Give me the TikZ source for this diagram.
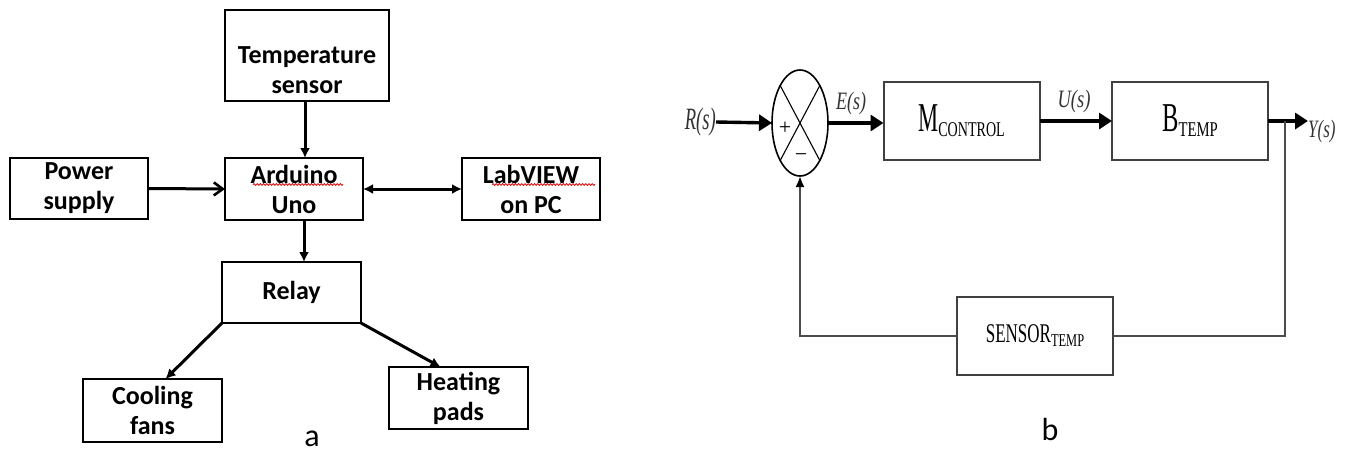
\documentclass[tikz,border=0pt]{standalone}
\usepackage{fontspec}
\setmainfont{Liberation Serif}
\newfontfamily\calibrifont{Carlito}
\usetikzlibrary{arrows.meta,shapes.geometric,decorations.pathmorphing}

\tikzset{
  lbox/.style={draw, line width=2pt, minimum width=138pt, minimum height=62pt,
    inner sep=0pt, outer sep=0pt, align=center,
    font=\calibrifont\bfseries\fontsize{26}{30}\selectfont},
  ltext/.style={inner sep=0pt, align=center, font=\calibrifont\bfseries\fontsize{26}{30}\selectfont},
  larrow/.style={line width=3pt, -{Latex[length=10pt,width=10pt]}},
  barbarrow/.style={line width=3pt, -{Straight Barb[length=9pt,width=13pt,line width=2.6pt]}},
  dblarrow/.style={line width=3pt, {Latex[length=10pt,width=10pt]}-{Latex[length=10pt,width=10pt]}},
  squiggle/.style={draw=red!85!black, line width=0.8pt, decorate,
    decoration={snake, segment length=3.2pt, amplitude=0.9pt}},
  rbox/.style={draw=black!75, line width=2pt, minimum width=156pt, minimum height=78pt,
    inner sep=0pt, outer sep=0pt},
  farrow/.style={line width=3.4pt, -{Triangle[length=13pt,width=16pt]}},
  fbline/.style={draw=black!70, line width=2pt},
  sig/.style={inner sep=0pt, text=black!80, font=\fontsize{25}{25}\selectfont\itshape},
  caption/.style={inner sep=0pt, font=\calibrifont\fontsize{32}{32}\selectfont},
}

\begin{document}
\begin{tikzpicture}[x=1pt,y=-1pt]
\fill[white] (0,0) rectangle (1346,453);
\useasboundingbox (0,0) rectangle (1346,453);

% ---------------- (a) ----------------
\node[lbox, minimum width=164pt, minimum height=91pt,
  label={[ltext,yshift=-15pt]center:{Temperature\\sensor}}] (temp) at (307,55.5) {};
\node[lbox] (ard) at (294,189) {Arduino\\Uno};
\node[lbox, minimum height=61pt] (pow) at (79,188.5) {Power\\supply};
\node[lbox] (lab) at (531,189) {LabVIEW\\on PC};
\node[lbox, minimum width=139pt, minimum height=61pt] (relay) at (291.5,292.5) {Relay};
\node[lbox, minimum width=139pt, minimum height=63pt] (cool) at (152.5,410.5) {Cooling\\fans};
\node[lbox, minimum width=139pt] (heat) at (458.5,398) {Heating\\pads};

\draw[squiggle] (253,184.5) -- (343,184.5);
\draw[squiggle] (492,184.5) -- (595,184.5);

\draw[larrow] ([xshift=-2pt]temp.south) -- ([xshift=-2pt]temp.south |- ard.north);
\draw[barbarrow] (pow.east) -- (ard.west);
\draw[dblarrow] (ard.east) -- (lab.west);
\draw[larrow] ([xshift=10pt]ard.south) -- ([xshift=10pt]ard.south |- relay.north);
\draw[larrow] (relay.south west) -- ([xshift=13pt]cool.north);
\draw[larrow] (relay.south east) -- ([xshift=-18pt]heat.north);

\node[caption, anchor=base] (capa) at (312,446) {a};

% ---------------- (b) ----------------
\node[draw, ellipse, line width=1.6pt, minimum width=56pt, minimum height=106pt,
  inner sep=0pt, outer sep=0pt] (sum) at (800,123) {};
\draw[line width=1.1pt] ([xshift=-19.8pt,yshift=37.5pt]sum.center) -- ([xshift=19.8pt,yshift=-37.5pt]sum.center);
\draw[line width=1.1pt] ([xshift=19.8pt,yshift=37.5pt]sum.center) -- ([xshift=-19.8pt,yshift=-37.5pt]sum.center);
\node[inner sep=0pt, font=\fontsize{22}{22}\selectfont] (plus) at (785,128) {+};
\node[inner sep=0pt, font=\fontsize{22}{22}\selectfont] (minus) at (801,158) {−};

\node[rbox] (ctrl) at (961.5,121)
  {\fontsize{41}{41}\selectfont\scalebox{0.55}[1]{M}\raisebox{-5pt}{\fontsize{21}{21}\selectfont\scalebox{0.67}[1]{CONTROL}}};
\node[rbox] (plant) at (1190,121)
  {\fontsize{41}{41}\selectfont\scalebox{0.6}[1]{B}\raisebox{-5pt}{\fontsize{21}{21}\selectfont\scalebox{0.7}[1]{TEMP}}};
\node[rbox] (sens) at (1035,336)
  {\fontsize{27}{27}\selectfont\scalebox{0.63}[1]{SENSOR}\raisebox{-4pt}{\fontsize{18}{18}\selectfont\scalebox{0.69}[1]{TEMP}}};

\node[sig, anchor=east, font=\fontsize{31}{31}\selectfont\itshape] (R) at (716,122) {\scalebox{0.6}[1]{R(s)}};
\node[sig] (E) at (851,103) {\scalebox{0.72}[1]{E(s)}};
\node[sig] (U) at (1074,101) {\scalebox{0.74}[1]{U(s)}};
\node[sig, anchor=west] (Y) at (1308,131) {\scalebox{0.68}[1]{Y(s)}};

\draw[farrow] (R.east) -- (sum.west);
\draw[farrow] (sum.east) -- (ctrl.west |- sum.east);
\draw[farrow] (ctrl.east) -- (plant.west);
\draw[farrow] (plant.east) -- (plant.east -| Y.west);

\coordinate (tap) at ([xshift=17pt]plant.east);
\draw[fbline] (tap) |- (sens.east);
\draw[fbline, -{Latex[length=11pt,width=9pt,black]}] (sens.west) -| (sum.south);

\node[caption, anchor=base] (capb) at (1050,440) {b};
\end{tikzpicture}
\end{document}
